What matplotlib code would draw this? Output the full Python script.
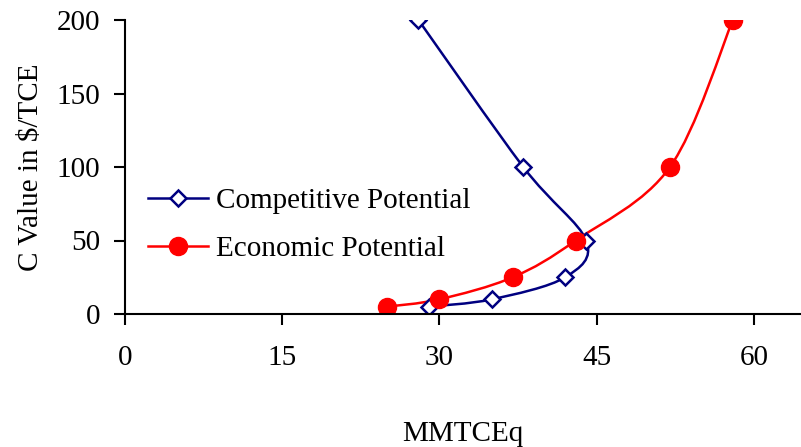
import numpy as np
import matplotlib.pyplot as plt
from matplotlib.path import Path
from matplotlib.patches import PathPatch
from matplotlib.lines import Line2D

plt.rcParams['font.family'] = ['Liberation Serif', 'DejaVu Serif']

# data
comp_x = [28, 38, 44, 42, 35, 29]
comp_y = [200, 100, 50, 25, 10, 5]
econ_x = [25, 30, 37, 43, 52, 58]
econ_y = [5, 10, 25, 50, 100, 200]

xticks = [0, 15, 30, 45, 60]
yticks = [0, 50, 100, 150, 200]

navy = '#000080'
red = '#ff0000'


def smooth_path(xs, ys):
    # Catmull-Rom style bezier, like the spreadsheet "smoothed line"
    p = np.column_stack([xs, ys]).astype(float)
    n = len(p)
    verts = [p[0]]
    codes = [Path.MOVETO]
    for i in range(n - 1):
        p0 = p[i - 1] if i > 0 else p[i]
        p3 = p[i + 2] if i + 2 < n else p[i + 1]
        c1 = p[i] + (p[i + 1] - p0) / 6
        c2 = p[i + 1] - (p3 - p[i]) / 6
        verts += [c1, c2, p[i + 1]]
        codes += [Path.CURVE4] * 3
    return Path(verts, codes)


fig = plt.figure(figsize=(8.01, 4.47), dpi=100)
ax = fig.add_axes([125 / 801, 133 / 447, 676 / 801, 294 / 447])

ax.add_patch(PathPatch(smooth_path(comp_x, comp_y), fill=False, ec=navy, lw=1.8))
ax.add_patch(PathPatch(smooth_path(econ_x, econ_y), fill=False, ec=red, lw=1.8))
ax.plot(comp_x, comp_y, ls='none', marker='D', ms=8.5, mfc='white', mec=navy, mew=1.8)
ax.plot(econ_x, econ_y, ls='none', marker='o', ms=13, mfc=red, mec=red)

ax.set_xlim(0, 64.5)
ax.set_ylim(0, 200)
ax.set_xticks(xticks)
ax.set_yticks(yticks)
ax.spines['top'].set_visible(False)
ax.spines['right'].set_visible(False)
for s in ['left', 'bottom']:
    ax.spines[s].set_linewidth(1.5)
ax.tick_params(direction='out', length=8, width=1.5, labelsize=21)
ax.tick_params(axis='y', pad=10)
ax.tick_params(axis='x', pad=14)
ax.set_ylabel('C Value in $/TCE', fontsize=21, labelpad=9)
ax.set_xlabel('MMTCEq', fontsize=21)
ax.xaxis.set_label_coords(0.5, -0.365)

handles = [
    Line2D([], [], color=navy, lw=1.8, marker='D', ms=8.5, mfc='white', mec=navy, mew=1.8),
    Line2D([], [], color=red, lw=1.8, marker='o', ms=13, mfc=red, mec=red),
]
ax.legend(handles, ['Competitive Potential', 'Economic Potential'],
          loc='upper left', bbox_to_anchor=(0.034, 0.43), frameon=False,
          fontsize=21, borderpad=0, borderaxespad=0, handlelength=2.05,
          handletextpad=0.28, labelspacing=0.75)

fig.savefig('out.png', dpi=100)
